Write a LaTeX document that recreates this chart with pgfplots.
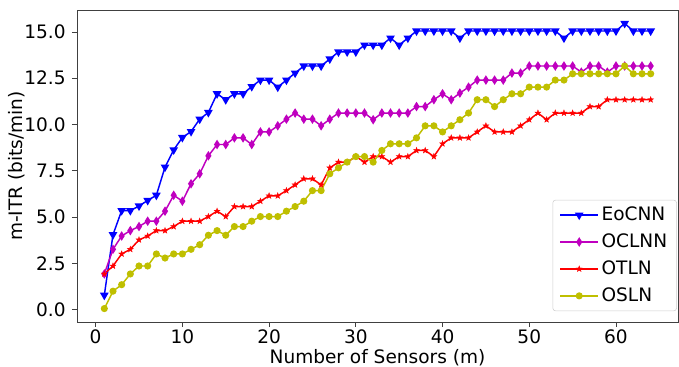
\documentclass[border=0pt]{standalone}
\usepackage{fontspec}
\setmainfont{DejaVu Sans}
\usepackage{pgfplots}
\pgfplotsset{compat=1.18}
\usepackage{pgfplotstable}
\definecolor{cB}{RGB}{0,0,255}
\definecolor{cM}{RGB}{191,0,191}
\definecolor{cR}{RGB}{255,0,0}
\definecolor{cY}{RGB}{191,191,0}
\pgfdeclareplotmark{fstar}{%
  \pgfpathmoveto{\pgfqpointpolar{90}{\pgfplotmarksize}}%
  \pgfpathlineto{\pgfqpointpolar{126}{0.4\pgfplotmarksize}}%
  \pgfpathlineto{\pgfqpointpolar{162}{\pgfplotmarksize}}%
  \pgfpathlineto{\pgfqpointpolar{198}{0.4\pgfplotmarksize}}%
  \pgfpathlineto{\pgfqpointpolar{234}{\pgfplotmarksize}}%
  \pgfpathlineto{\pgfqpointpolar{270}{0.4\pgfplotmarksize}}%
  \pgfpathlineto{\pgfqpointpolar{306}{\pgfplotmarksize}}%
  \pgfpathlineto{\pgfqpointpolar{342}{0.4\pgfplotmarksize}}%
  \pgfpathlineto{\pgfqpointpolar{18}{\pgfplotmarksize}}%
  \pgfpathlineto{\pgfqpointpolar{54}{0.4\pgfplotmarksize}}%
  \pgfpathclose
  \pgfusepathqfillstroke}

\pgfplotstableread{
m v
1 0.78
2 4.05
3 5.35
4 5.35
5 5.6
6 5.9
7 6.18
8 7.7
9 8.63
10 9.3
11 9.62
12 10.29
13 10.65
14 11.66
15 11.34
16 11.66
17 11.66
18 12.05
19 12.4
20 12.4
21 12.02
22 12.4
23 12.78
24 13.16
25 13.16
26 13.16
27 13.54
28 13.92
29 13.92
30 13.92
31 14.29
32 14.29
33 14.29
34 14.67
35 14.29
36 14.67
37 15.05
38 15.05
39 15.05
40 15.05
41 15.05
42 14.67
43 15.05
44 15.05
45 15.05
46 15.05
47 15.05
48 15.05
49 15.05
50 15.05
51 15.05
52 15.05
53 15.05
54 14.67
55 15.05
56 15.05
57 15.05
58 15.05
59 15.05
60 15.05
61 15.46
62 15.05
63 15.05
64 15.05
}\eocnn

\pgfplotstableread{
m v
1 1.93
2 3.26
3 3.98
4 4.27
5 4.49
6 4.78
7 4.78
8 5.32
9 6.18
10 5.86
11 6.8
12 7.34
13 8.31
14 8.92
15 8.92
16 9.28
17 9.28
18 8.92
19 9.6
20 9.6
21 9.93
22 10.29
23 10.62
24 10.29
25 10.29
26 9.93
27 10.29
28 10.62
29 10.62
30 10.62
31 10.62
32 10.26
33 10.62
34 10.62
35 10.62
36 10.62
37 10.97
38 10.97
39 11.34
40 11.66
41 11.34
42 11.7
43 12.02
44 12.4
45 12.4
46 12.4
47 12.4
48 12.78
49 12.78
50 13.16
51 13.16
52 13.16
53 13.16
54 13.16
55 13.16
56 12.83
57 13.16
58 13.16
59 12.83
60 13.16
61 13.16
62 13.16
63 13.16
64 13.16
}\oclnn

\pgfplotstableread{
m v
1 1.93
2 2.36
3 3.01
4 3.26
5 3.77
6 3.98
7 4.27
8 4.27
9 4.49
10 4.78
11 4.78
12 4.78
13 5.03
14 5.32
15 5.03
16 5.57
17 5.57
18 5.57
19 5.86
20 6.15
21 6.15
22 6.43
23 6.74
24 7.07
25 7.07
26 6.74
27 7.66
28 7.97
29 7.97
30 8.27
31 7.97
32 8.27
33 8.27
34 7.97
35 8.27
36 8.27
37 8.6
38 8.6
39 8.27
40 8.96
41 9.28
42 9.28
43 9.28
44 9.6
45 9.93
46 9.6
47 9.6
48 9.6
49 9.93
50 10.26
51 10.62
52 10.26
53 10.62
54 10.62
55 10.62
56 10.62
57 10.97
58 10.97
59 11.34
60 11.34
61 11.34
62 11.34
63 11.34
64 11.34
}\otln

\pgfplotstableread{
m v
1 0.06
2 1.0
3 1.35
4 1.93
5 2.36
6 2.36
7 3.01
8 2.79
9 3.01
10 3.01
11 3.26
12 3.51
13 4.02
14 4.27
15 4.02
16 4.49
17 4.49
18 4.78
19 5.03
20 5.03
21 5.03
22 5.32
23 5.57
24 5.86
25 6.43
26 6.43
27 7.34
28 7.66
29 7.97
30 8.27
31 8.27
32 7.97
33 8.6
34 8.96
35 8.96
36 8.96
37 9.28
38 9.93
39 9.93
40 9.6
41 9.93
42 10.26
43 10.62
44 11.34
45 11.34
46 10.97
47 11.34
48 11.66
49 11.66
50 12.02
51 12.02
52 12.02
53 12.4
54 12.4
55 12.74
56 12.74
57 12.74
58 12.74
59 12.74
60 12.74
61 13.16
62 12.74
63 12.74
64 12.74
}\osln

\begin{document}
\begin{tikzpicture}
\fontsize{13.9}{16}\selectfont
\begin{axis}[
  scale only axis,
  width=450.75pt, height=234pt,
  xmin=-2.15, xmax=67.15,
  ymin=-0.665, ymax=16.185,
  xtick={0,10,20,30,40,50,60},
  ytick={0,2.5,5,7.5,10,12.5,15},
  yticklabel style={/pgf/number format/.cd, fixed, fixed zerofill, precision=1},
  /pgf/number format/assume math mode=true,
  tick align=outside,
  xtick pos=left, ytick pos=left,
  major tick length=3.75pt,
  tick style={line width=0.6pt, black!75},
  axis line style={line width=0.6pt, black!75},
  ticklabel style={font=\fontsize{13.9}{16}\selectfont},
  xticklabel style={yshift=2.5pt},
  label style={font=\fontsize{13.9}{16}\selectfont},
  xlabel={Number of Sensors (m)},
  ylabel={m-ITR (bits/min)},
  xlabel style={at={(axis description cs:0.5,-0.133)}, anchor=base},
  ylabel style={at={(axis description cs:-0.0998,0.5)}, anchor=center},
  legend style={at={(0.998,0.035)}, anchor=south east, draw=black!20, rounded corners=2pt,
    font=\fontsize{13.9}{16}\selectfont, row sep=3.8pt, inner xsep=5pt, inner ysep=3pt},
  legend cell align=left,
  legend image code/.code={\draw[mark repeat=2,mark phase=2] plot coordinates {(0pt,0pt) (14.25pt,0pt) (28.5pt,0pt)};},
]
\addplot[cB, line width=1.1pt, mark=triangle*, mark size=2.7pt, mark options={rotate=180, solid}] table[x=m,y=v] {\eocnn};
\addlegendentry{EoCNN}
\addplot[cM, line width=1.1pt, mark=diamond*, mark size=2.6pt, mark options={xscale=0.85, solid}] table[x=m,y=v] {\oclnn};
\addlegendentry{OCLNN}
\addplot[cR, line width=1.1pt, mark=fstar, mark size=2.3pt, mark options={solid, line width=0.3pt}] table[x=m,y=v] {\otln};
\addlegendentry{OTLN}
\addplot[cY, line width=1.1pt, mark=*, mark size=2.1pt, mark options={solid}] table[x=m,y=v] {\osln};
\addlegendentry{OSLN}
\end{axis}
\pgfresetboundingbox
\path[use as bounding box] (-57.75pt,-33.75pt) rectangle (451.5pt,241.5pt);
\end{tikzpicture}
\end{document}
